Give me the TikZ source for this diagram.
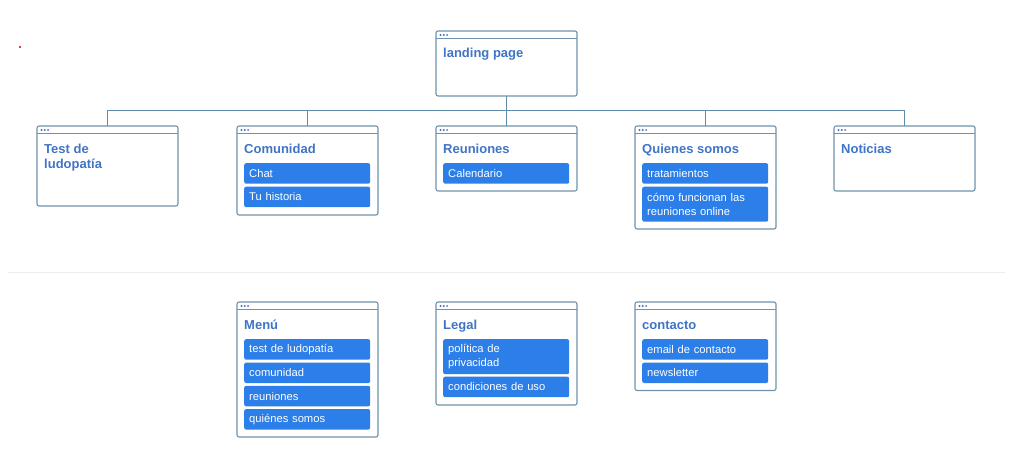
\documentclass[tikz,border=0pt]{standalone}
\usepackage{fontspec}
\setmainfont{Liberation Sans}
\begin{document}
\begin{tikzpicture}[x=1pt,y=-1pt,
  boxline/.style={draw=bordc, line width=1.1pt, rounded corners=2pt, fill=white},
  hdr/.style={draw=bordc, line width=1pt},
  dotc/.style={fill=titlec},
  ttl/.style={font=\fontsize{13}{15}\selectfont\bfseries, text=titlec, inner sep=0pt, anchor=base west, align=left},
  item/.style={fill=itemc, rounded corners=2pt, text=white, font=\fontsize{11.2}{14}\selectfont, inner xsep=5pt, inner ysep=0pt, anchor=north west, minimum width=126pt, text width=116pt, align=left, minimum height=20.5pt},
  item2/.style={item, minimum height=35pt},
  conn/.style={draw=connc, line width=1pt}
]
\definecolor{bordc}{RGB}{112,146,170}
\definecolor{titlec}{RGB}{64,116,196}
\definecolor{itemc}{RGB}{44,126,232}
\definecolor{connc}{RGB}{96,140,172}
\definecolor{sepc}{RGB}{236,236,236}
\useasboundingbox (0,0) rectangle (1024,452);

% red dot
\fill[red!80!black] (20,47) circle (1.2pt);

% separator
\draw[sepc, line width=1pt] (8,272) -- (1005,272);

% window drawing via pic
\tikzset{win/.pic={
  \draw[boxline] (0,0) rectangle (\pgfkeysvalueof{/tikz/winw},\pgfkeysvalueof{/tikz/winh});
  \draw[hdr] (0,7.5) -- (\pgfkeysvalueof{/tikz/winw},7.5);
  \fill[dotc] (4.5,4) circle (1.1pt) (7.8,4) circle (1.1pt) (11.1,4) circle (1.1pt);
}}
\pgfkeys{/tikz/winw/.initial=141, /tikz/winh/.initial=65}

% landing
\path (436,31) pic[winh=65] {win};
\node[ttl] (landing) at (443,58) {landing page};
\coordinate (lb) at (506.5,96);
\coordinate (hub) at (506.5,110);

% row 1 windows
\path (37,126) pic[winh=80] {win};
\path (237,126) pic[winh=89] {win};
\path (436,126) pic[winh=65] {win};
\path (635,126) pic[winh=103] {win};
\path (834,126) pic[winh=65] {win};

\coordinate (t1) at (107.5,126);
\coordinate (t2) at (307.5,126);
\coordinate (t3) at (506.5,126);
\coordinate (t4) at (705.5,126);
\coordinate (t5) at (904.5,126);

\draw[conn] (lb) -- (hub);
\draw[conn] (t1) -- (107.5,110) -- (904.5,110) -- (t5);
\draw[conn] (t2) -- (307.5,110);
\draw[conn] (t3) -- (hub);
\draw[conn] (t4) -- (705.5,110);

\node[ttl] (test) at (44,168) {Test de\\ludopatía};
\node[ttl] (comu) at (244,153) {Comunidad};
\node[item] (chat) at (244,163) {Chat};
\node[item] (hist) at (244,186.5) {Tu historia};
\node[ttl] (reun) at (443,153) {Reuniones};
\node[item] (cal) at (443,163) {Calendario};
\node[ttl] (quien) at (642,153) {Quienes somos};
\node[item] (trat) at (642,163) {tratamientos};
\node[item2] (como) at (642,186.5) {cómo funcionan las\\reuniones online};
\node[ttl] (noti) at (841,153) {Noticias};

% row 2
\path (237,302) pic[winh=135] {win};
\path (436,302) pic[winh=103] {win};
\path (635,302) pic[winh=88.5] {win};

\node[ttl] (menu) at (244,329) {Menú};
\node[item] (m1) at (244,339) {test de ludopatía};
\node[item] (m2) at (244,362.3) {comunidad};
\node[item] (m3) at (244,385.6) {reuniones};
\node[item] (m4) at (244,408.9) {quiénes somos};

\node[ttl] (legal) at (443,329) {Legal};
\node[item2] (l1) at (443,339) {política de\\privacidad};
\node[item] (l2) at (443,376.5) {condiciones de uso};

\node[ttl] (cont) at (642,329) {contacto};
\node[item] (c1) at (642,339) {email de contacto};
\node[item] (c2) at (642,362.3) {newsletter};
\end{tikzpicture}
\end{document}
